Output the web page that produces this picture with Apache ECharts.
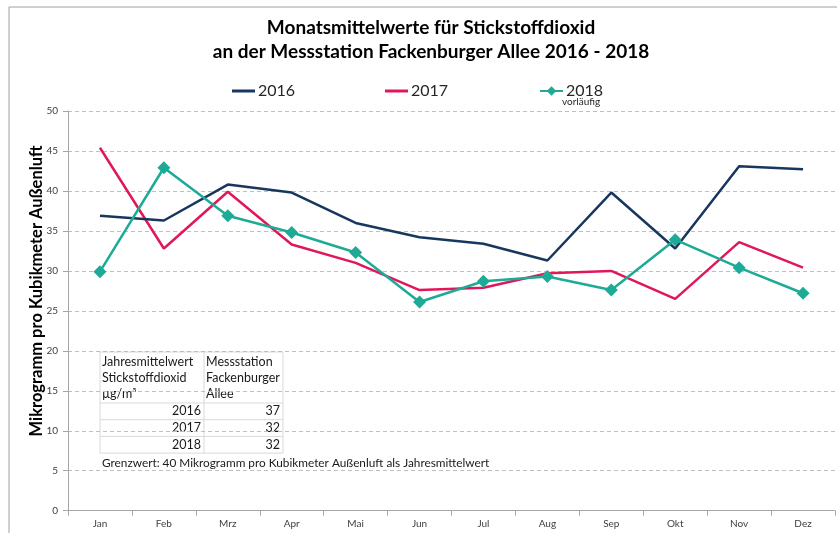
<!DOCTYPE html>
<html>
<head>
<meta charset="utf-8">
<title>Stickstoffdioxid Fackenburger Allee</title>
<script src="https://cdn.jsdelivr.net/npm/echarts@6/dist/echarts.min.js"></script>
<style>
  html, body { margin: 0; padding: 0; background: #fff; }
  #chart { width: 837px; height: 533px; }
</style>
</head>
<body>
<div id="chart"></div>
<script>
// Monatsmittelwerte NO2
const months = ['Jan', 'Feb', 'Mrz', 'Apr', 'Mai', 'Jun', 'Jul', 'Aug', 'Sep', 'Okt', 'Nov', 'Dez']
const values2016 = [36.9, 36.3, 40.8, 39.8, 36.0, 34.2, 33.4, 31.3, 39.8, 32.8, 43.1, 42.7]
const values2017 = [45.4, 32.8, 39.9, 33.3, 31.0, 27.6, 27.9, 29.7, 30.0, 26.5, 33.6, 30.4]
const values2018 = [29.9, 42.9, 36.9, 34.8, 32.3, 26.1, 28.7, 29.3, 27.6, 33.9, 30.4, 27.2]

// Tabelle Jahresmittelwerte
const tableHeadLeft = ['Jahresmittelwert', 'Stickstoffdioxid', 'µg/m³']
const tableHeadRight = ['Messstation', 'Fackenburger', 'Allee']
const tableYears = ['2016', '2017', '2018']
const tableValues = [37, 32, 32]
const limitNote = 'Grenzwert: 40 Mikrogramm pro Kubikmeter Außenluft als Jahresmittelwert'

const FONT = 'Lato, "Noto Sans", sans-serif'
const chart = echarts.init(document.getElementById('chart'))

// Tabelle als Grafik-Elemente aufbauen
const buildTable = () => {
  const x0 = 100, x1 = 204, x2 = 283
  const yTop = 352, yHead = 403, rowH = 16.7
  const border = { stroke: '#d9d9d9', lineWidth: 1 }
  const cellFont = `12.5px ${FONT}`
  const els = []
  const yBottom = yHead + rowH * tableYears.length

  els.push({ type: 'rect', shape: { x: x0, y: yTop, width: x2 - x0, height: yBottom - yTop }, style: { fill: '#fff', ...border } })
  els.push({ type: 'line', shape: { x1: x1, y1: yTop, x2: x1, y2: yBottom }, style: border })
  els.push({ type: 'line', shape: { x1: x0, y1: yHead, x2: x2, y2: yHead }, style: border })

  tableHeadLeft.forEach((t, i) => {
    els.push({ type: 'text', x: x0 + 2, y: yTop + 10 + i * 15.8, style: { text: t, font: cellFont, fill: '#1a1a1a', verticalAlign: 'middle' } })
  })
  tableHeadRight.forEach((t, i) => {
    els.push({ type: 'text', x: x1 + 2, y: yTop + 10 + i * 15.8, style: { text: t, font: cellFont, fill: '#1a1a1a', verticalAlign: 'middle' } })
  })
  tableYears.forEach((year, i) => {
    const yMid = yHead + rowH * i + rowH / 2
    if (i > 0) {
      els.push({ type: 'line', shape: { x1: x0, y1: yHead + rowH * i, x2: x2, y2: yHead + rowH * i }, style: border })
    }
    els.push({ type: 'text', x: x1 - 3, y: yMid, style: { text: year, font: cellFont, fill: '#1a1a1a', align: 'right', verticalAlign: 'middle' } })
    els.push({ type: 'text', x: x2 - 3, y: yMid, style: { text: String(tableValues[i]), font: cellFont, fill: '#1a1a1a', align: 'right', verticalAlign: 'middle' } })
  })

  els.push({ type: 'rect', shape: { x: x0, y: yBottom + 2, width: 392, height: 15 }, style: { fill: '#fff' } })
  els.push({ type: 'text', x: x0 + 2, y: yBottom + 10, style: { text: limitNote, font: `11.8px ${FONT}`, fill: '#1a1a1a', verticalAlign: 'middle' } })
  return els
}

const legendBase = {
  top: 78,
  itemWidth: 23,
  itemGap: 4,
  textStyle: { fontFamily: FONT, fontSize: 16, color: '#262626', padding: [0, 0, 0, -2] },
}

chart.setOption({
  animation: false,
  backgroundColor: '#fff',
  title: {
    text: 'Monatsmittelwerte für Stickstoffdioxid\nan der Messstation Fackenburger Allee 2016 - 2018',
    left: 426,
    textAlign: 'center',
    top: 11,
    textStyle: { fontFamily: FONT, fontSize: 19, fontWeight: 'bold', color: '#000', lineHeight: 24 },
  },
  // eine Legende je Jahr, damit die Abstände wie in der Vorlage sind
  legend: [
    { ...legendBase, left: 227, itemHeight: 3, data: [{ name: '2016', icon: 'rect' }] },
    { ...legendBase, left: 380, itemHeight: 3, data: [{ name: '2017', icon: 'rect' }] },
    { ...legendBase, left: 534, itemHeight: 12, data: ['2018'] },
  ],
  grid: { left: 68, right: 2, top: 111, bottom: 22.3 },
  xAxis: {
    type: 'category',
    data: months,
    boundaryGap: true,
    axisLine: { lineStyle: { color: '#a6a6a6' } },
    axisTick: { show: true, length: 5, lineStyle: { color: '#a6a6a6' } },
    axisLabel: { fontFamily: FONT, fontSize: 10, color: '#404040', margin: 8 },
  },
  yAxis: {
    type: 'value',
    min: 0,
    max: 50,
    interval: 5,
    name: 'Mikrogramm pro Kubikmeter Außenluft',
    nameLocation: 'middle',
    nameGap: 23,
    nameMoveOverlap: false,
    nameTextStyle: { fontFamily: FONT, fontSize: 16.5, fontWeight: 'bold', color: '#000', padding: [0, 0, 0, 40] },
    axisLine: { show: true, lineStyle: { color: '#a6a6a6' } },
    axisTick: { show: true, length: 5, lineStyle: { color: '#a6a6a6' } },
    axisLabel: { fontFamily: FONT, fontSize: 10, color: '#404040', margin: 10 },
    splitLine: { lineStyle: { color: '#bfbfbf', type: [4, 3] } },
  },
  series: [
    {
      name: '2016',
      type: 'line',
      data: values2016,
      symbol: 'none',
      lineStyle: { color: '#17375e', width: 2.5 },
      itemStyle: { color: '#17375e' },
      z: 3,
    },
    {
      name: '2017',
      type: 'line',
      data: values2017,
      symbol: 'none',
      lineStyle: { color: '#e0185a', width: 2.5 },
      itemStyle: { color: '#e0185a' },
      z: 2,
    },
    {
      name: '2018',
      type: 'line',
      data: values2018,
      symbol: 'diamond',
      symbolSize: 13,
      lineStyle: { color: '#1daa96', width: 2.5 },
      itemStyle: { color: '#1daa96' },
      z: 4,
    },
  ],
  graphic: [
    // Rahmen des Diagramms (links und oben)
    { type: 'line', shape: { x1: 9, y1: 7, x2: 837, y2: 7 }, style: { stroke: '#a0a0a0', lineWidth: 1 } },
    { type: 'line', shape: { x1: 9, y1: 7, x2: 9, y2: 533 }, style: { stroke: '#a0a0a0', lineWidth: 1 } },
    { type: 'text', x: 562, y: 102, style: { text: 'vorläufig', font: `10px ${FONT}`, fill: '#262626', verticalAlign: 'middle' } },
    { type: 'group', z: 50, children: buildTable() },
  ],
})
</script>
</body>
</html>
